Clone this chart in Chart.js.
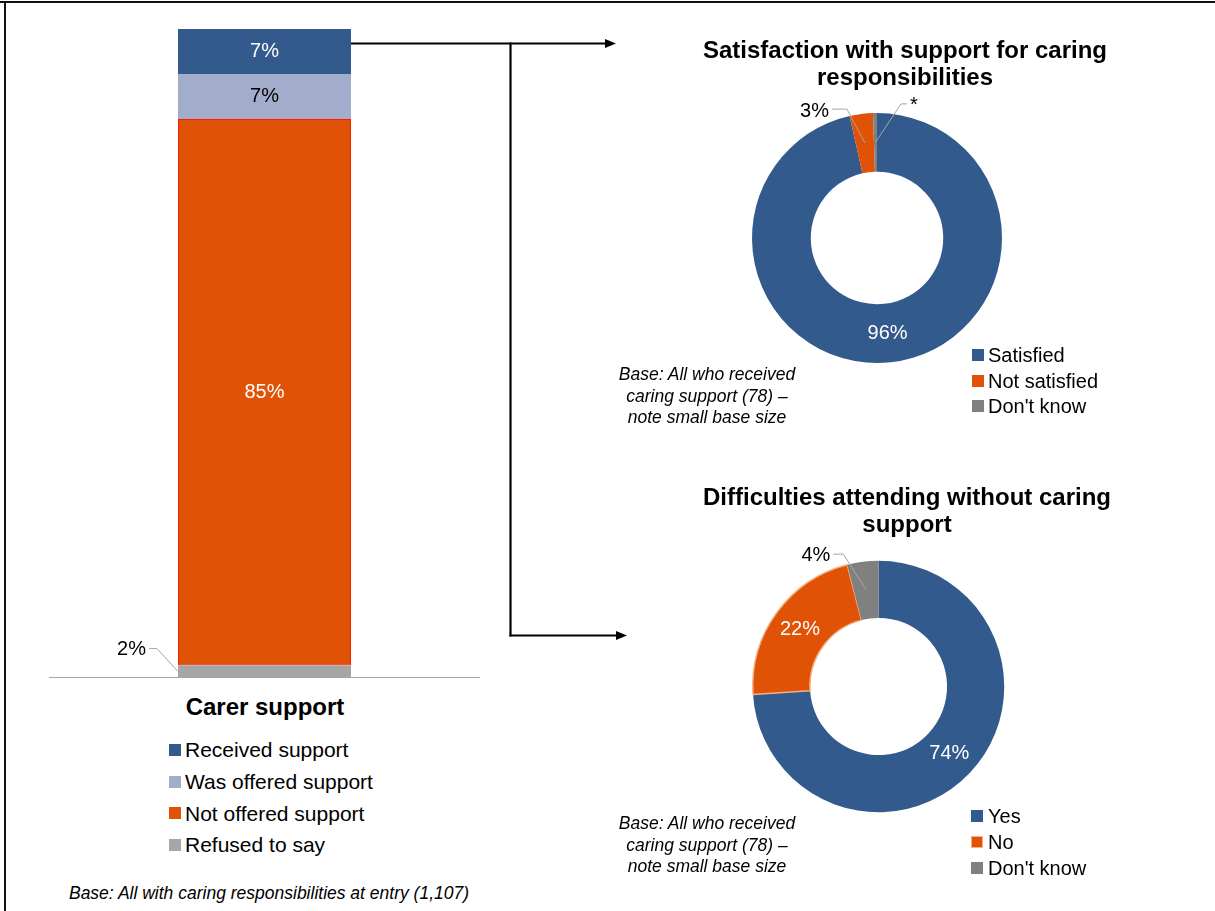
<!DOCTYPE html>
<html>
<head>
<meta charset="utf-8">
<title>Carer support</title>
<script src="https://cdn.jsdelivr.net/npm/chart.js@4.4.1/dist/chart.umd.min.js"></script>
<style>
  body { margin: 0; background: #fff; }
  #page {
    position: relative; width: 1215px; height: 911px; overflow: hidden; background: #fff;
    font-family: "Liberation Sans", Arial, sans-serif; color: #000;
  }
  .abs { position: absolute; }
  .title { position: absolute; width: 600px; font-weight: bold; font-size: 24px; line-height: 27px; text-align: center; white-space: nowrap; }
  .note { position: absolute; width: 500px; font-style: italic; font-size: 17.5px; line-height: 21.5px; text-align: center; white-space: nowrap; }
  .key { position: absolute; white-space: nowrap; }
  .swatch { position: absolute; width: 12px; height: 12px; box-sizing: border-box; }
</style>
</head>
<body>
<div id="page">
  <svg class="abs" style="left:0;top:0" width="1215" height="911">
    <rect x="0" y="1" width="1215" height="2" fill="#111"/>
    <rect x="4" y="1" width="2" height="910" fill="#111"/>
    <g stroke="#000" stroke-width="2.2" fill="none">
      <line x1="349" y1="43.5" x2="607" y2="43.5"/>
      <line x1="510.5" y1="42.5" x2="510.5" y2="636.5"/>
      <line x1="509.5" y1="635.5" x2="618" y2="635.5"/>
    </g>
    <polygon points="605,39 616,43.5 605,48" fill="#000"/>
    <polygon points="616,631 627,635.5 616,640" fill="#000"/>
  </svg>

  <div class="abs" style="left:49px;top:29px;width:431px;height:649px"><canvas id="barChart" width="431" height="649"></canvas></div>
  <!-- doughnut canvases carry 60px padding so the callouts are not clipped -->
  <div class="abs" style="left:692px;top:53px;width:370px;height:370px"><canvas id="satChart" width="370" height="370"></canvas></div>
  <div class="abs" style="left:692px;top:500px;width:373px;height:373px"><canvas id="diffChart" width="373" height="373"></canvas></div>

  <div class="title" style="left:-35px;top:693px">Carer support</div>
  <div class="title" style="left:605px;top:36px">Satisfaction with support for caring<br>responsibilities</div>
  <div class="title" style="left:607px;top:483px">Difficulties attending without caring<br>support</div>

  <div class="note" style="left:457px;top:364px">Base: All who received<br>caring support (78) –<br>note small base size</div>
  <div class="note" style="left:457px;top:813px">Base: All who received<br>caring support (78) –<br>note small base size</div>
  <div class="note" style="left:19px;top:883px">Base: All with caring responsibilities at entry (1,107)</div>

  <div id="keys"></div>
</div>

<script>
// carer support status, top of the bar first
const supportLabels = ['Received support', 'Was offered support', 'Not offered support', 'Refused to say'];
const supportValues = [7, 7, 85, 2];
const supportColors = ['#335a8c', '#a2adcb', '#e05206', '#a6a6a6'];

// satisfaction among those who received support ("*" = under 0.5%)
const satLabels = ['Satisfied', 'Not satisfied', "Don't know"];
const satValues = [96, 3, 0.5];
const satText = ['96%', '3%', '*'];
const satColors = ['#335a8c', '#e05206', '#808080'];

// would they have had difficulty attending without the support
const diffLabels = ['Yes', 'No', "Don't know"];
const diffValues = [74, 22, 4];
const diffText = ['74%', '22%', '4%'];
const diffColors = ['#335a8c', '#e05206', '#808080'];

const FONT = '"Liberation Sans", Arial, sans-serif';
const LEADER = '#a6a6a6';

// grey callout: line from the mark out to an elbow, short arm, then text
function callout(ctx, x, y, c, text) {
  const ex = x + c.dx, ey = y + c.dy, ax = ex + c.arm;
  ctx.strokeStyle = LEADER;
  ctx.lineWidth = 1;
  ctx.beginPath();
  ctx.moveTo(x, y);
  ctx.lineTo(ex, ey);
  ctx.lineTo(ax, ey);
  ctx.stroke();
  ctx.fillStyle = '#000';
  ctx.textAlign = c.arm < 0 ? 'right' : 'left';
  ctx.fillText(text, ax + Math.sign(c.arm) * 3, ey + (c.ty || 0));
}

// ---- stacked bar ----
const barTextColors = ['#fff', '#000', '#fff', '#000'];
const barCallouts = [null, null, null, { dx: -21, dy: -23, arm: -8, ty: 0.5 }];

// datasets stack from the bottom up, so reverse the legend order
const barSets = supportLabels.map((label, i) => ({
  label,
  key: i,
  data: [supportValues[i]],
  backgroundColor: supportColors[i],
  borderColor: i === 2 ? '#ff1a00' : supportColors[i],
  borderWidth: i === 2 ? 1 : 0,
  borderSkipped: false,
  barPercentage: 1,
  categoryPercentage: 173 / 431
})).reverse();

const barLabels = {
  id: 'barLabels',
  afterDatasetsDraw(chart) {
    const { ctx, chartArea, scales } = chart;
    const y0 = scales.y.getPixelForValue(0);
    ctx.save();
    ctx.strokeStyle = '#a6a6a6';
    ctx.lineWidth = 1.2;
    ctx.beginPath();
    ctx.moveTo(chartArea.left, y0 - 0.5);
    ctx.lineTo(chartArea.right, y0 - 0.5);
    ctx.stroke();
    ctx.font = '20px ' + FONT;
    ctx.textBaseline = 'middle';
    chart.data.datasets.forEach((ds, i) => {
      const bar = chart.getDatasetMeta(i).data[0];
      const midY = (bar.y + bar.base) / 2;
      const text = ds.data[0] + '%';
      const c = barCallouts[ds.key];
      if (c) {
        callout(ctx, bar.x - bar.width / 2, midY, c, text);
      } else {
        ctx.fillStyle = barTextColors[ds.key];
        ctx.textAlign = 'center';
        ctx.fillText(text, bar.x, midY);
      }
    });
    ctx.restore();
  }
};

new Chart(document.getElementById('barChart'), {
  type: 'bar',
  data: { labels: ['Carer support'], datasets: barSets },
  options: {
    responsive: false,
    animation: false,
    events: [],
    layout: { padding: 0 },
    scales: {
      x: { stacked: true, display: false },
      y: { stacked: true, display: false, min: 0, max: supportValues.reduce((a, b) => a + b, 0) }
    },
    plugins: { legend: { display: false }, tooltip: { enabled: false } }
  },
  plugins: [barLabels]
});

// ---- doughnuts ----
function sliceLabels(texts, callouts) {
  return {
    id: 'sliceLabels',
    afterDatasetsDraw(chart) {
      const { ctx } = chart;
      ctx.save();
      ctx.font = '20px ' + FONT;
      ctx.textBaseline = 'middle';
      chart.getDatasetMeta(0).data.forEach((arc, i) => {
        const p = arc.tooltipPosition(true);
        if (callouts[i]) {
          callout(ctx, p.x, p.y, callouts[i], texts[i]);
        } else {
          ctx.fillStyle = '#fff';
          ctx.textAlign = 'center';
          ctx.fillText(texts[i], p.x, p.y);
        }
      });
      ctx.restore();
    }
  };
}

function doughnut(id, labels, values, colors, o) {
  return new Chart(document.getElementById(id), {
    type: 'doughnut',
    data: {
      labels,
      datasets: [{
        data: values,
        backgroundColor: colors,
        borderColor: o.borderColors || colors,
        borderWidth: o.borderWidths || 0,
        hoverBorderWidth: 0,
        hoverOffset: 0,
        offset: 0
      }]
    },
    options: {
      responsive: false,
      animation: false,
      events: [],
      cutout: o.cutout,
      layout: { padding: 60 },
      plugins: { legend: { display: false }, tooltip: { enabled: false } }
    },
    plugins: [sliceLabels(o.texts, o.callouts)]
  });
}

doughnut('satChart', satLabels, satValues, satColors, {
  cutout: '53%',
  texts: satText,
  callouts: [null, { dx: -18, dy: -34, arm: -15, ty: 2.5 }, { dx: 25.5, dy: -38.5, arm: 6, ty: 1.5 }]
});

doughnut('diffChart', diffLabels, diffValues, diffColors, {
  cutout: '54.5%',
  borderColors: ['#335a8c', '#f4b183', '#808080'],
  borderWidths: [0, 1.5, 0],
  texts: diffText,
  callouts: [null, null, { dx: -23, dy: -36, arm: -10, ty: 1 }]
});

// ---- legends ----
function legend(labels, colors, o) {
  const host = document.getElementById('keys');
  labels.forEach((label, i) => {
    const base = o.baseline + i * o.step;
    const sw = document.createElement('div');
    sw.className = 'swatch';
    sw.style.left = o.box + 'px';
    sw.style.top = (base - 13) + 'px';
    sw.style.background = colors[i];
    if (o.borders && o.borders[i]) sw.style.border = '1.5px solid ' + o.borders[i];
    host.appendChild(sw);
    const t = document.createElement('div');
    t.className = 'key';
    t.textContent = label;
    t.style.fontSize = o.size + 'px';
    t.style.lineHeight = (o.size * 1.2) + 'px';
    t.style.left = o.text + 'px';
    t.style.top = (base - o.size * 0.9465) + 'px';
    host.appendChild(t);
  });
}

legend(supportLabels, supportColors, { box: 169, text: 185, baseline: 757, step: 31.7, size: 21 });
legend(satLabels, satColors, { box: 972, text: 988, baseline: 362, step: 25.5, size: 20 });
legend(diffLabels, diffColors, { box: 971, text: 988, baseline: 822.5, step: 26, size: 20, borders: [null, '#f4b183', null] });
</script>
</body>
</html>
